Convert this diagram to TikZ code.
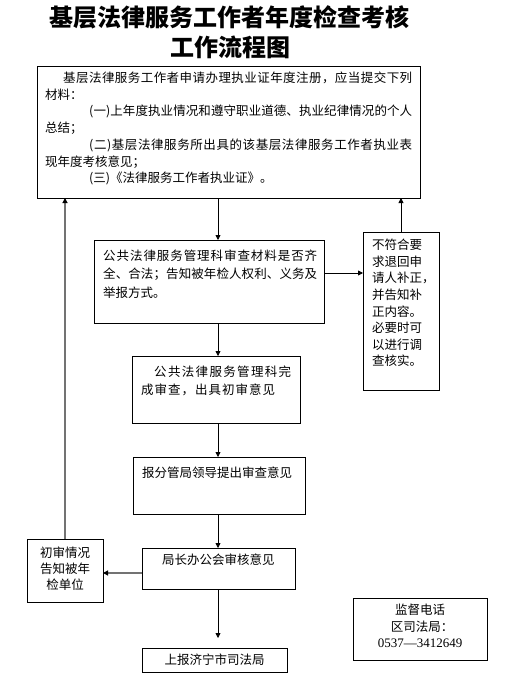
\documentclass[tikz,border=0pt]{standalone}
\usepackage{fontspec}
\setmainfont{Noto Sans CJK SC}
\newfontfamily\numfont{Liberation Serif}
\usetikzlibrary{arrows.meta}
\makeatletter
\def\jl@first#1{#1\jl@rest}
\def\jl@rest#1{\ifx#1\relax\else\hskip 0pt plus 1fil#1\expandafter\jl@rest\fi}
\newcommand\jl[2]{\hbox to #1{\jl@first#2\relax}}
\makeatother
\begin{document}
\begin{tikzpicture}[x=1pt,y=-1pt,
  box/.style={draw,line width=0.8pt,inner sep=0,outer sep=0},
  tx/.style={inner sep=0,anchor=base west,font=\fontsize{12.5}{15}\selectfont},
  ctx/.style={inner sep=0,anchor=base,font=\fontsize{12.5}{15}\selectfont},
  ttl/.style={inner sep=0,anchor=center,font=\fontsize{24}{28}\selectfont\bfseries},
  arr/.style={line width=0.8pt,-{Triangle[length=5pt,width=5pt]}},
  garr/.style={line width=1.1pt,draw=black!55,-{Triangle[length=5pt,width=5pt,color=black]}}]
\useasboundingbox[fill=white] (0,0) rectangle (504,695);

% title
\node[ttl] (title1) at (229,17) {基层法律服务工作者年度检查考核};
\node[ttl] (title2) at (230,47) {工作流程图};

% boxes
\node[box,minimum width=383pt,minimum height=132pt] (top) at (228.5,132) {};
\node[box,minimum width=230pt,minimum height=83pt] (b2) at (209,281.5) {};
\node[box,minimum width=168pt,minimum height=67pt] (b3) at (216,389.5) {};
\node[box,minimum width=172pt,minimum height=57pt] (b4) at (219,485.5) {};
\node[box,minimum width=153pt,minimum height=41pt] (b5) at (218.5,568.5) {};
\node[box,minimum width=145pt,minimum height=24pt] (b6) at (214.5,660) {};
\node[box,minimum width=76pt,minimum height=158pt] (rb) at (401,311) {};
\node[box,minimum width=76pt,minimum height=63pt] (lb) at (65,570.5) {};
\node[box,minimum width=134pt,minimum height=62pt] (pb) at (420,629) {};

% top box text
\node[tx] (t1) at (63,82.6) {\jl{349pt}{基层法律服务工作者申请办理执业证年度注册，应当提交下列}};
\node[tx] (t2) at (45,99.3) {材料：};
\node[tx] (t3) at (89,116) {\jl{323pt}{(一)上年度执业情况和遵守职业道德、执业纪律情况的个人}};
\node[tx] (t4) at (45,132.7) {总结；};
\node[tx] (t5) at (89,149.4) {\jl{323pt}{(二)基层法律服务所出具的该基层法律服务工作者执业表}};
\node[tx] (t6) at (45,166.1) {现年度考核意见；};
\node[tx] (t7) at (89,182.8) {(三)《法律服务工作者执业证》。};

% box 2 text
\node[tx] (u1) at (103,260) {\jl{214pt}{公共法律服务管理科审查材料是否齐}};
\node[tx] (u2) at (103,278.6) {\jl{214pt}{全、合法；告知被年检人权利、义务及}};
\node[tx] (u3) at (103,297) {举报方式。};

% box 3 text
\node[tx] (v1) at (154,376.6) {\jl{137pt}{公共法律服务管理科完}};
\node[tx] (v2) at (141,394.6) {\jl{134pt}{成审查，出具初审意见}};

% box 4,5,6 text
\node[tx] (w1) at (142,477.6) {报分管局领导提出审查意见};
\node[tx] (x1) at (162,564.6) {局长办公会审核意见};
\node[ctx] (y1) at (214.5,664.6) {上报济宁市司法局};

% right box text
\node[tx] (r1) at (372,249.6) {不符合要};
\node[tx] (r2) at (372,266.2) {求退回申};
\node[tx] (r3) at (372,282.8) {请人补正，};
\node[tx] (r4) at (372,299.4) {并告知补};
\node[tx] (r5) at (372,316) {正内容。};
\node[tx] (r6) at (372,332.6) {必要时可};
\node[tx] (r7) at (372,349.2) {以进行调};
\node[tx] (r8) at (372,365.8) {查核实。};

% left box text
\node[ctx] (l1) at (65,557.6) {初审情况};
\node[ctx] (l2) at (65,573.6) {告知被年};
\node[ctx] (l3) at (65,589.6) {检单位};

% phone box text
\node[ctx] (p1) at (420,614.6) {监督电话};
\node[ctx] (p2) at (422,631) {区司法局：};
\node[ctx,font=\fontsize{13}{15}\selectfont\numfont] (p3) at (420,647.4) {0537—3412649};

% helper coordinates
\coordinate (sp) at (218,0);
\coordinate (ry) at (0,273);
\coordinate (ly) at (0,573);

% connectors
\draw[arr] (top.south -| sp) -- (b2.north -| sp);
\draw[arr] (b2.south -| sp) -- (b3.north -| sp);
\draw[arr] (b3.south -| sp) -- (b4.north -| sp);
\draw[arr] (b4.south -| sp) -- (b5.north -| sp);
\draw[arr,shorten >=10pt] (b5.south -| sp) -- (b6.north -| sp);
\draw[arr] (b2.east |- ry) -- (rb.west |- ry);
\draw[arr] (rb.north) -- (top.south -| rb.north);
\draw[garr] (b5.west |- ly) -- (lb.east |- ly);
\draw[garr] (lb.north) -- (top.south -| lb.north);
\end{tikzpicture}
\end{document}
